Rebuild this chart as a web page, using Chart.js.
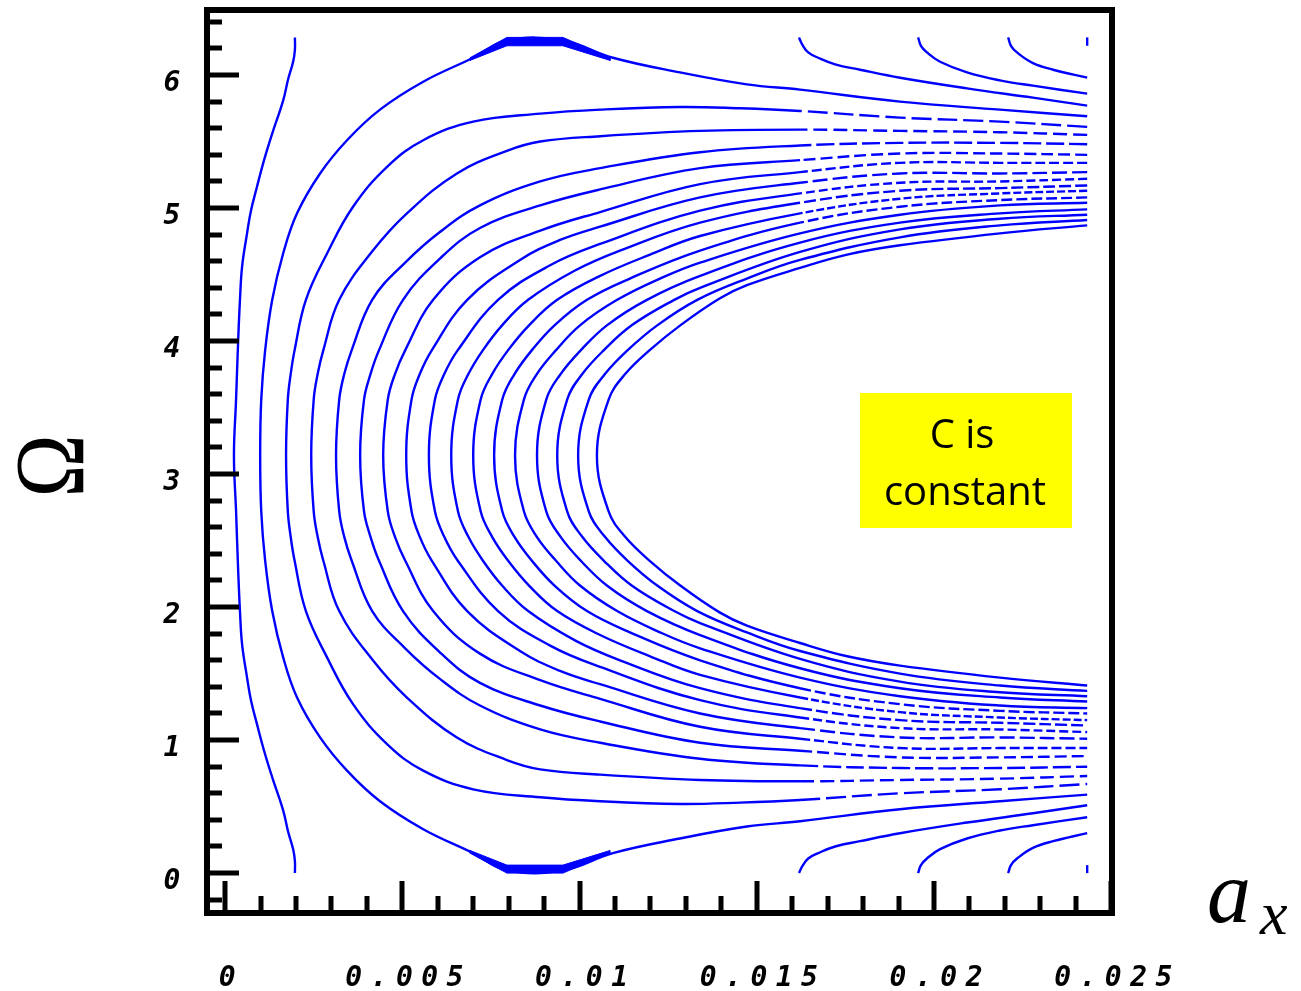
<!DOCTYPE html>
<html>
<head>
<meta charset="utf-8">
<script src="https://cdn.jsdelivr.net/npm/chart.js@4.4.1/dist/chart.umd.min.js"></script>
<style>
  html, body { margin: 0; padding: 0; background: #ffffff; }
  #wrap { position: relative; width: 1301px; height: 991px; }
  canvas { display: block; }
</style>
</head>
<body>
<div id="wrap"><canvas id="chart" width="1301" height="991"></canvas></div>
<script>
// Level curves of C in the (a_x, Ω) plane.
// Each point is [a_x in units of 1e-3, Ω in radians], listed along the curve.

const level01 = [[1.97,6.283],[1.97,6.19],[1.92,6.10],[1.78,5.97],[1.64,5.81],[1.33,5.56],[1.10,5.36],[0.90,5.16],[0.73,4.98],[0.62,4.81],[0.48,4.56],[0.42,4.31],[0.37,4.01],[0.31,3.56],[0.25,3.14],[0.31,2.72],[0.37,2.27],[0.42,1.97],[0.48,1.72],[0.62,1.47],[0.73,1.30],[0.90,1.12],[1.10,0.92],[1.33,0.72],[1.64,0.47],[1.78,0.31],[1.92,0.18],[1.97,0.09],[1.97,0]];

// separatrix through the saddle at Ω = 0 (2π)
const level02 = [[24.32,5.69],[21.86,5.74],[19.04,5.80],[16.22,5.89],[14.72,5.93],[12.83,6.02],[10.94,6.13],[9.53,6.26],[7.95,6.26],[7.00,6.13],[5.59,5.95],[4.37,5.74],[3.44,5.51],[2.68,5.26],[2.03,4.96],[1.64,4.66],[1.33,4.31],[1.13,3.93],[1.02,3.56],[0.99,3.14],[1.02,2.72],[1.13,2.35],[1.33,1.97],[1.64,1.62],[2.03,1.32],[2.68,1.02],[3.44,0.77],[4.37,0.54],[5.59,0.33],[7.00,0.15],[7.95,0.02],[9.53,0.02],[10.94,0.15],[12.83,0.26],[14.72,0.35],[16.22,0.39],[19.04,0.48],[21.86,0.54],[24.32,0.59]];

const level03 = [[24.32,5.61],[21.86,5.65],[19.04,5.68],[16.22,5.73],[14.53,5.75],[12.83,5.76],[10.58,5.74],[8.89,5.71],[7.00,5.65],[5.59,5.51],[4.57,5.31],[3.61,5.01],[2.88,4.66],[2.28,4.31],[1.96,3.93],[1.85,3.75],[1.77,3.56],[1.72,3.14],[1.77,2.72],[1.85,2.53],[1.96,2.35],[2.28,1.97],[2.88,1.62],[3.61,1.27],[4.57,0.97],[5.59,0.77],[7.00,0.63],[8.89,0.57],[10.58,0.54],[12.83,0.52],[14.53,0.53],[16.22,0.55],[19.04,0.60],[21.86,0.63],[24.32,0.67]];

const level04 = [[24.32,5.55],[21.86,5.57],[19.04,5.58],[16.22,5.59],[13.40,5.58],[10.58,5.54],[8.89,5.50],[7.95,5.43],[6.54,5.26],[5.13,4.96],[4.17,4.68],[3.22,4.31],[2.77,3.93],[2.61,3.75],[2.50,3.56],[2.43,3.14],[2.50,2.72],[2.61,2.53],[2.77,2.35],[3.22,1.97],[4.17,1.60],[5.13,1.32],[6.54,1.02],[7.95,0.85],[8.89,0.78],[10.58,0.74],[13.40,0.70],[16.22,0.69],[19.04,0.70],[21.86,0.71],[24.32,0.73]];

const level05 = [[24.32,5.48],[21.86,5.49],[19.04,5.49],[16.22,5.47],[13.40,5.42],[10.58,5.30],[8.89,5.20],[7.19,5.02],[6.06,4.82],[5.08,4.59],[4.15,4.31],[3.57,3.93],[3.36,3.75],[3.22,3.56],[3.13,3.14],[3.22,2.72],[3.36,2.53],[3.57,2.35],[4.15,1.97],[5.08,1.69],[6.06,1.46],[7.19,1.26],[8.89,1.08],[10.58,0.98],[13.40,0.86],[16.22,0.81],[19.04,0.79],[21.86,0.79],[24.32,0.80]];

const level06 = [[24.32,5.40],[21.86,5.41],[19.04,5.41],[16.22,5.36],[13.40,5.30],[10.58,5.14],[8.89,5.02],[7.19,4.85],[6.06,4.62],[5.02,4.31],[4.34,3.93],[4.10,3.75],[3.92,3.56],[3.81,3.14],[3.92,2.72],[4.10,2.53],[4.34,2.35],[5.02,1.97],[6.06,1.66],[7.19,1.43],[8.89,1.26],[10.58,1.14],[13.40,0.98],[16.22,0.92],[19.04,0.87],[21.86,0.87],[24.32,0.88]];

const level07 = [[24.32,5.34],[21.86,5.34],[19.04,5.34],[16.22,5.27],[13.40,5.18],[10.58,4.97],[8.89,4.83],[7.19,4.63],[5.87,4.31],[5.08,3.93],[4.79,3.75],[4.59,3.56],[4.46,3.14],[4.59,2.72],[4.79,2.53],[5.08,2.35],[5.87,1.97],[7.19,1.65],[8.89,1.45],[10.58,1.31],[13.40,1.10],[16.22,1.01],[19.04,0.94],[21.86,0.94],[24.32,0.94]];

const level08 = [[24.32,5.27],[21.86,5.26],[19.04,5.26],[16.22,5.19],[13.40,5.08],[10.58,4.86],[9.45,4.76],[8.32,4.61],[6.83,4.31],[5.83,3.93],[5.49,3.75],[5.26,3.56],[5.11,3.14],[5.26,2.72],[5.49,2.53],[5.83,2.35],[6.83,1.97],[8.32,1.67],[9.45,1.52],[10.58,1.42],[13.40,1.20],[16.22,1.09],[19.04,1.02],[21.86,1.02],[24.32,1.01]];

const level09 = [[24.32,5.22],[21.86,5.20],[19.04,5.19],[16.22,5.11],[13.40,4.98],[10.58,4.73],[9.17,4.57],[7.70,4.31],[6.56,3.93],[6.18,3.75],[5.92,3.56],[5.75,3.14],[5.92,2.72],[6.18,2.53],[6.56,2.35],[7.70,1.97],[9.17,1.71],[10.58,1.55],[13.40,1.30],[16.22,1.17],[19.04,1.09],[21.86,1.08],[24.32,1.06]];

const level10 = [[24.32,5.17],[21.86,5.15],[19.04,5.13],[16.22,5.04],[13.40,4.89],[11.14,4.68],[9.87,4.53],[8.55,4.31],[7.82,4.12],[7.27,3.93],[6.86,3.75],[6.57,3.56],[6.38,3.14],[6.57,2.72],[6.86,2.53],[7.27,2.35],[7.82,2.16],[8.55,1.97],[9.87,1.75],[11.14,1.60],[13.40,1.39],[16.22,1.24],[19.04,1.15],[21.86,1.13],[24.32,1.11]];

const level11 = [[24.32,5.13],[21.86,5.11],[19.04,5.07],[16.22,4.96],[13.40,4.79],[11.99,4.65],[10.58,4.49],[9.37,4.31],[8.58,4.12],[7.98,3.93],[7.53,3.75],[7.21,3.56],[7.00,3.14],[7.21,2.72],[7.53,2.53],[7.98,2.35],[8.58,2.16],[9.37,1.97],[10.58,1.79],[11.99,1.63],[13.40,1.49],[16.22,1.32],[19.04,1.21],[21.86,1.17],[24.32,1.15]];

const level12 = [[24.32,5.08],[21.86,5.06],[19.04,5.01],[16.22,4.89],[13.40,4.68],[11.42,4.47],[10.21,4.31],[9.30,4.12],[8.65,3.93],[8.16,3.75],[7.82,3.56],[7.59,3.14],[7.82,2.72],[8.16,2.53],[8.65,2.35],[9.30,2.16],[10.21,1.97],[11.42,1.81],[13.40,1.60],[16.22,1.39],[19.04,1.27],[21.86,1.22],[24.32,1.20]];

const level13 = [[24.32,5.04],[21.86,5.02],[19.04,4.95],[16.22,4.81],[13.40,4.59],[12.27,4.47],[11.06,4.31],[10.02,4.12],[9.33,3.93],[8.79,3.75],[8.43,3.56],[8.18,3.14],[8.43,2.72],[8.79,2.53],[9.33,2.35],[10.02,2.16],[11.06,1.97],[12.27,1.81],[13.40,1.69],[16.22,1.47],[19.04,1.33],[21.86,1.26],[24.32,1.24]];

const level14 = [[24.32,4.99],[21.86,4.96],[19.04,4.89],[16.22,4.74],[13.40,4.49],[11.90,4.31],[10.78,4.12],[10.03,3.93],[9.46,3.75],[9.06,3.56],[8.80,3.14],[9.06,2.72],[9.46,2.53],[10.03,2.35],[10.78,2.16],[11.90,1.97],[13.40,1.79],[16.22,1.54],[19.04,1.39],[21.86,1.32],[24.32,1.29]];

const level15 = [[24.32,4.95],[21.86,4.92],[19.04,4.84],[16.22,4.67],[13.40,4.40],[12.67,4.31],[11.48,4.12],[10.68,3.93],[10.07,3.75],[9.65,3.56],[9.37,3.14],[9.65,2.72],[10.07,2.53],[10.68,2.35],[11.48,2.16],[12.67,1.97],[13.40,1.88],[16.22,1.61],[19.04,1.44],[21.86,1.36],[24.32,1.33]];

const level16 = [[24.32,4.91],[21.86,4.87],[19.04,4.78],[16.22,4.61],[14.72,4.47],[13.32,4.31],[12.20,4.12],[11.35,3.93],[10.71,3.75],[10.26,3.56],[9.96,3.14],[10.26,2.72],[10.71,2.53],[11.35,2.35],[12.20,2.16],[13.32,1.97],[14.72,1.81],[16.22,1.67],[19.04,1.50],[21.86,1.41],[24.32,1.37]];

const level17 = [[24.32,4.87],[21.86,4.81],[19.04,4.72],[17.55,4.65],[16.22,4.55],[14.72,4.42],[13.95,4.32],[12.85,4.12],[11.97,3.93],[11.28,3.75],[10.82,3.56],[10.49,3.14],[10.82,2.72],[11.28,2.53],[11.97,2.35],[12.85,2.16],[13.95,1.96],[14.72,1.86],[16.22,1.73],[17.55,1.63],[19.04,1.56],[21.86,1.47],[24.32,1.41]];

// open arcs beyond the saddle, near Ω = 2π and Ω = 0
const arcA_top = [[16.19,6.283],[16.28,6.23],[16.45,6.17],[16.73,6.13],[17.21,6.08],[17.91,6.04],[19.04,5.98],[20.93,5.90],[22.79,5.83],[24.32,5.77]];
const arcA_bot = [[16.19,0],[16.28,0.05],[16.45,0.11],[16.73,0.15],[17.21,0.20],[17.91,0.24],[19.04,0.30],[20.93,0.38],[22.79,0.45],[24.32,0.51]];
const arcB_top = [[19.55,6.283],[19.63,6.22],[19.80,6.17],[20.17,6.10],[20.93,6.02],[21.86,5.96],[22.79,5.92],[24.32,5.86]];
const arcB_bot = [[19.55,0],[19.63,0.06],[19.80,0.11],[20.17,0.18],[20.93,0.26],[21.86,0.32],[22.79,0.36],[24.32,0.42]];
const arcC_top = [[22.09,6.283],[22.17,6.22],[22.34,6.17],[22.79,6.09],[23.36,6.04],[24.32,5.98]];
const arcC_bot = [[22.09,0],[22.17,0.06],[22.34,0.11],[22.79,0.19],[23.36,0.24],[24.32,0.30]];
const arcD_top = [[24.32,6.283],[24.32,6.22]];
const arcD_bot = [[24.32,0],[24.32,0.06]];

// crowded contour band where the separatrix touches Ω = 0 / 2π
const saddleTop = [[6.91,6.13],[7.95,6.283],[9.53,6.283],[10.86,6.13],[10.86,6.11],[9.53,6.22],[7.95,6.22],[6.91,6.11],[6.91,6.13]];
const saddleBot = [[6.91,0.15],[7.95,0],[9.53,0],[10.86,0.15],[10.86,0.17],[9.53,0.06],[7.95,0.06],[6.91,0.17],[6.91,0.15]];

// axis ticks
const xMajorTicks = [0, 0.005, 0.01, 0.015, 0.02, 0.025];
const xTickLabels = ['0', '0.005', '0.01', '0.015', '0.02', '0.025'];
const yMajorTicks = [0, 1, 2, 3, 4, 5, 6];
const yTickLabels = ['0', '1', '2', '3', '4', '5', '6'];
const xMinorStep = 0.001;
const yMinorStep = 0.2;

const BLUE = '#0000ff';
const A_UNIT = 1e-3;

const closedLevels = [level01, level02, level03, level04, level05, level06, level07, level08, level09,
  level10, level11, level12, level13, level14, level15, level16, level17];
const openArcs = [arcA_top, arcA_bot, arcB_top, arcB_bot, arcC_top, arcC_bot, arcD_top, arcD_bot];

// the coarse plotting grid breaks the flat outer parts of the middle levels into dashes
const DASH_FROM = 0.0162;
const dashPatterns = new Map([
  [level03, [20, 6]], [level04, [14, 6]], [level05, [18, 5]], [level06, [12, 5]],
  [level07, [10, 4]], [level08, [15, 5]], [level09, [9, 4]], [level10, [12, 4]],
  [level11, [8, 3]], [level12, [11, 4]]
]);

const toXY = pts => pts.map(([a, w]) => ({ x: a * A_UNIT, y: w }));

const lineStyle = (pts) => {
  const dash = dashPatterns.get(pts);
  return {
    data: toXY(pts),
    showLine: true,
    borderColor: BLUE,
    borderWidth: 2.4,
    pointRadius: 0,
    tension: 0.4,
    fill: false,
    borderJoinStyle: 'round',
    segment: dash ? {
      borderDash: c => (c.p0.parsed.x >= DASH_FROM && c.p1.parsed.x >= DASH_FROM) ? dash : undefined
    } : undefined
  };
};

const datasets = closedLevels.concat(openArcs).map(lineStyle).concat([saddleTop, saddleBot].map(pts => ({
  data: toXY(pts),
  showLine: true,
  borderColor: BLUE,
  backgroundColor: BLUE,
  borderWidth: 1,
  pointRadius: 0,
  tension: 0,
  fill: 'shape'
})));

// frame, inward ticks, tick labels, axis symbols and the note box
const decorations = {
  id: 'decorations',
  afterDatasetsDraw(chart) {
    const { ctx, chartArea: ca, scales: { x, y } } = chart;
    ctx.save();
    ctx.strokeStyle = '#000';
    ctx.fillStyle = '#000';

    // ticks
    ctx.lineWidth = 5;
    ctx.lineCap = 'butt';
    const yTick = (v, len) => {
      const py = Math.round(y.getPixelForValue(v));
      ctx.beginPath(); ctx.moveTo(ca.left, py); ctx.lineTo(ca.left + len, py); ctx.stroke();
    };
    const xTick = (v, len) => {
      const px = Math.round(x.getPixelForValue(v));
      ctx.beginPath(); ctx.moveTo(px, ca.bottom); ctx.lineTo(px, ca.bottom - len); ctx.stroke();
    };
    for (let k = Math.ceil(y.min / yMinorStep); k * yMinorStep <= y.max; k++) {
      if (k % 5 !== 0) yTick(k * yMinorStep, 15);
    }
    yMajorTicks.forEach(v => yTick(v, 32));
    for (let k = 1; k * xMinorStep < x.max; k++) {
      if (k % 5 !== 0) xTick(k * xMinorStep, 17);
    }
    xMajorTicks.forEach(v => xTick(v, 32));

    // frame
    ctx.lineWidth = 6;
    ctx.strokeRect(ca.left, ca.top, ca.right - ca.left, ca.bottom - ca.top);

    // tick labels
    ctx.font = 'italic bold 28px "DejaVu Sans Mono"';
    ctx.textBaseline = 'middle';
    ctx.textAlign = 'center';
    yMajorTicks.forEach((v, i) => {
      ctx.fillText(yTickLabels[i], 172, y.getPixelForValue(v) + 9);
    });
    const spacing = 8.5;
    ctx.letterSpacing = spacing + 'px';
    ctx.textAlign = 'left';
    xMajorTicks.forEach((v, i) => {
      const label = xTickLabels[i];
      const w = ctx.measureText(label).width - spacing;
      ctx.fillText(label, x.getPixelForValue(v) + 2 - w / 2, ca.bottom + 66);
    });
    ctx.letterSpacing = '0px';

    // Ω axis symbol, turned on its side
    ctx.save();
    ctx.translate(49, 466);
    ctx.rotate(-Math.PI / 2);
    ctx.scale(0.85, 1);
    ctx.font = '100px "Liberation Serif"';
    ctx.textAlign = 'center';
    ctx.textBaseline = 'alphabetic';
    ctx.fillText('Ω', 0, 34);
    ctx.restore();

    // a_x axis symbol
    ctx.textAlign = 'left';
    ctx.textBaseline = 'alphabetic';
    ctx.font = 'italic 88px "Liberation Serif"';
    ctx.fillText('a', 1207, 922);
    ctx.font = 'italic 62px "Liberation Serif"';
    ctx.fillText('x', 1260, 934);

    // note box
    ctx.fillStyle = '#ffff00';
    ctx.fillRect(860, 393, 212, 135);
    ctx.fillStyle = '#000';
    ctx.font = '40px "Open Sans"';
    ctx.textAlign = 'center';
    ctx.fillText('C is', 962, 448);
    ctx.fillText('constant', 965, 505);

    ctx.restore();
  }
};

new Chart(document.getElementById('chart'), {
  type: 'scatter',
  data: { datasets },
  options: {
    responsive: false,
    animation: false,
    events: [],
    devicePixelRatio: 1,
    layout: { padding: { left: 207, top: 10, right: 189, bottom: 78 } },
    plugins: { legend: { display: false }, tooltip: { enabled: false }, title: { display: false } },
    scales: {
      x: { type: 'linear', min: -0.00051, max: 0.02502, display: false },
      y: { type: 'linear', min: -0.30, max: 6.489, display: false }
    }
  },
  plugins: [decorations]
});
</script>
</body>
</html>
